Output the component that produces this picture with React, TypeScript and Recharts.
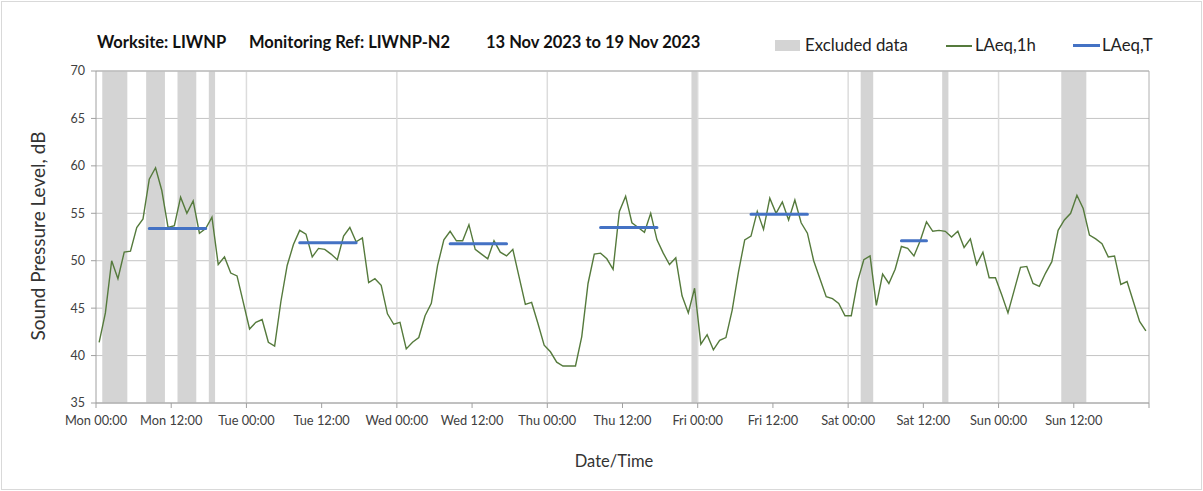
import React from "react";
import {
  ComposedChart,
  Line,
  XAxis,
  YAxis,
  CartesianGrid,
  ReferenceArea,
  ReferenceLine,
} from "recharts";

// Hourly LAeq,1h values, Mon 13 Nov 00:00 to Sun 19 Nov 23:00
const laeq1h = [
  // Mon
  41.4, 44.5, 50.0, 48.1, 50.9, 51.0, 53.5, 54.4, 58.6, 59.8, 57.4, 53.5,
  53.7, 56.7, 55.0, 56.3, 52.9, 53.4, 54.6, 49.6, 50.4, 48.7, 48.4, 45.6,
  // Tue
  42.8, 43.5, 43.8, 41.4, 41.0, 45.7, 49.5, 51.7, 53.2, 52.8, 50.4, 51.3,
  51.2, 50.7, 50.1, 52.6, 53.5, 52.0, 52.4, 47.7, 48.1, 47.4, 44.4, 43.3,
  // Wed
  43.5, 40.7, 41.4, 41.9, 44.2, 45.5, 49.5, 52.2, 53.1, 52.1, 52.1, 53.8,
  51.2, 50.7, 50.2, 52.1, 50.9, 50.5, 51.2, 48.3, 45.4, 45.6, 43.4, 41.1,
  // Thu
  40.4, 39.3, 38.9, 38.9, 38.9, 42.0, 47.6, 50.7, 50.8, 50.2, 49.1, 55.2,
  56.8, 54.0, 53.5, 53.0, 55.0, 52.2, 50.8, 49.6, 50.3, 46.3, 44.5, 47.1,
  // Fri
  41.2, 42.2, 40.6, 41.6, 41.9, 44.8, 48.8, 52.2, 52.6, 55.2, 53.3, 56.6,
  55.0, 56.2, 54.3, 56.4, 54.0, 52.9, 50.0, 48.1, 46.2, 46.0, 45.5, 44.2,
  // Sat
  44.2, 47.8, 50.1, 50.5, 45.3, 48.6, 47.6, 49.1, 51.5, 51.3, 50.5, 52.1,
  54.1, 53.1, 53.2, 53.1, 52.5, 53.1, 51.4, 52.3, 49.6, 50.9, 48.2, 48.2,
  // Sun
  46.4, 44.5, 46.9, 49.3, 49.4, 47.6, 47.3, 48.7, 49.9, 53.2, 54.3, 55.0,
  56.9, 55.5, 52.7, 52.3, 51.8, 50.4, 50.5, 47.5, 47.8, 45.7, 43.6, 42.6,
];

// LAeq,T periods (first and last hour index, level)
const periodStart = [8, 32, 56, 80, 104, 128];
const periodEnd = [17, 41, 65, 89, 113, 132];
const periodLevel = [53.4, 51.9, 51.8, 53.5, 54.9, 52.1];

// Excluded data (hours from Mon 00:00)
const excludedStart = [1, 8, 13, 18, 95, 122, 135, 154];
const excludedEnd = [5, 11, 16, 19, 96, 124, 136, 158];

const xTicks = [0, 12, 24, 36, 48, 60, 72, 84, 96, 108, 120, 132, 144, 156, 168];
const xTickLabels = [
  "Mon 00:00", "Mon 12:00", "Tue 00:00", "Tue 12:00", "Wed 00:00", "Wed 12:00",
  "Thu 00:00", "Thu 12:00", "Fri 00:00", "Fri 12:00", "Sat 00:00", "Sat 12:00",
  "Sun 00:00", "Sun 12:00", "",
];
const dayLines = [24, 48, 72, 96, 120, 144];
const yTicks = [35, 40, 45, 50, 55, 60, 65, 70];

const chartData = laeq1h.map((v, i) => {
  const p = periodStart.findIndex((s, k) => i >= s && i <= periodEnd[k]);
  return {
    t: i + 0.5,
    laeq1h: v,
    laeqT: p >= 0 ? periodLevel[p] : null,
  };
});

const FONT = "Lato, 'Open Sans', sans-serif";
const GREEN = "#557a3c";
const BLUE = "#4472c4";
const BAND = "#d4d4d4";

export default function App() {
  return (
    <div
      style={{
        position: "absolute",
        left: 0,
        top: 0,
        width: 1203,
        height: 491,
        background: "#fff",
        fontFamily: FONT,
      }}
    >
      <div
        style={{
          position: "absolute",
          left: 1,
          top: 1,
          width: 1199,
          height: 487,
          border: "1px solid #d9d9d9",
        }}
      />
      <ComposedChart
        width={1203}
        height={491}
        data={chartData}
        margin={{ top: 71, right: 54, left: 36, bottom: 58 }}
      >
        <CartesianGrid vertical={false} stroke="#c4c4c4" />
        {excludedStart.map((s, k) => (
          <ReferenceArea
            key={k}
            x1={s}
            x2={excludedEnd[k]}
            y1={35}
            y2={70}
            fill={BAND}
            fillOpacity={1}
            stroke="none"
          />
        ))}
        {dayLines.map((d) => (
          <ReferenceLine key={d} x={d} stroke="#dcdcdc" strokeWidth={1.5} />
        ))}
        <ReferenceLine y={70} stroke="#b0b0b0" />
        <ReferenceLine x={168} stroke="#b0b0b0" />
        <XAxis
          type="number"
          dataKey="t"
          domain={[0, 168]}
          ticks={xTicks}
          tickFormatter={(v) => xTickLabels[xTicks.indexOf(v)] ?? ""}
          interval={0}
          height={30}
          stroke="#a0a0a0"
          tickSize={5}
          tickMargin={8}
          tick={{ fill: "#404040", fontSize: 12.8, fontFamily: FONT }}
          allowDataOverflow
        />
        <YAxis
          type="number"
          domain={[35, 70]}
          ticks={yTicks}
          width={60}
          stroke="#a0a0a0"
          tickSize={5}
          tickMargin={6}
          tick={{ fill: "#404040", fontSize: 12.5, fontFamily: FONT }}
          allowDataOverflow
        />
        <Line
          type="linear"
          dataKey="laeq1h"
          stroke={GREEN}
          strokeWidth={1.4}
          dot={false}
          isAnimationActive={false}
        />
        <Line
          type="linear"
          dataKey="laeqT"
          stroke={BLUE}
          strokeWidth={3}
          strokeLinecap="round"
          dot={false}
          connectNulls={false}
          isAnimationActive={false}
        />
      </ComposedChart>

      {/* title */}
      <div
        style={{
          position: "absolute",
          top: 32,
          left: 97,
          fontSize: 16.5,
          fontWeight: 700,
          color: "#111",
          whiteSpace: "nowrap",
        }}
      >
        <span style={{ position: "absolute", left: 0 }}>Worksite: LIWNP</span>
        <span style={{ position: "absolute", left: 152 }}>Monitoring Ref: LIWNP-N2</span>
        <span style={{ position: "absolute", left: 389 }}>13 Nov 2023 to 19 Nov 2023</span>
      </div>

      {/* legend */}
      <div style={{ position: "absolute", top: 34, left: 775, fontSize: 16.8, color: "#222", whiteSpace: "nowrap" }}>
        <span style={{ position: "absolute", left: 0, top: 6, width: 25, height: 11, background: BAND }} />
        <span style={{ position: "absolute", left: 30, top: 0 }}>Excluded data</span>
        <span style={{ position: "absolute", left: 171, top: 11, width: 26, height: 1.5, background: GREEN }} />
        <span style={{ position: "absolute", left: 200, top: 0 }}>LAeq,1h</span>
        <span style={{ position: "absolute", left: 298, top: 10, width: 27, height: 2.5, background: BLUE }} />
        <span style={{ position: "absolute", left: 327, top: 0 }}>LAeq,T</span>
      </div>

      {/* axis titles */}
      <div
        style={{
          position: "absolute",
          left: 37,
          top: 236,
          transform: "translate(-50%, -50%) rotate(-90deg)",
          fontSize: 19,
          color: "#333",
          whiteSpace: "nowrap",
        }}
      >
        Sound Pressure Level, dB
      </div>
      <div
        style={{
          position: "absolute",
          left: 614,
          top: 461,
          transform: "translate(-50%, -50%)",
          fontSize: 16.5,
          color: "#333",
          whiteSpace: "nowrap",
        }}
      >
        Date/Time
      </div>
    </div>
  );
}
